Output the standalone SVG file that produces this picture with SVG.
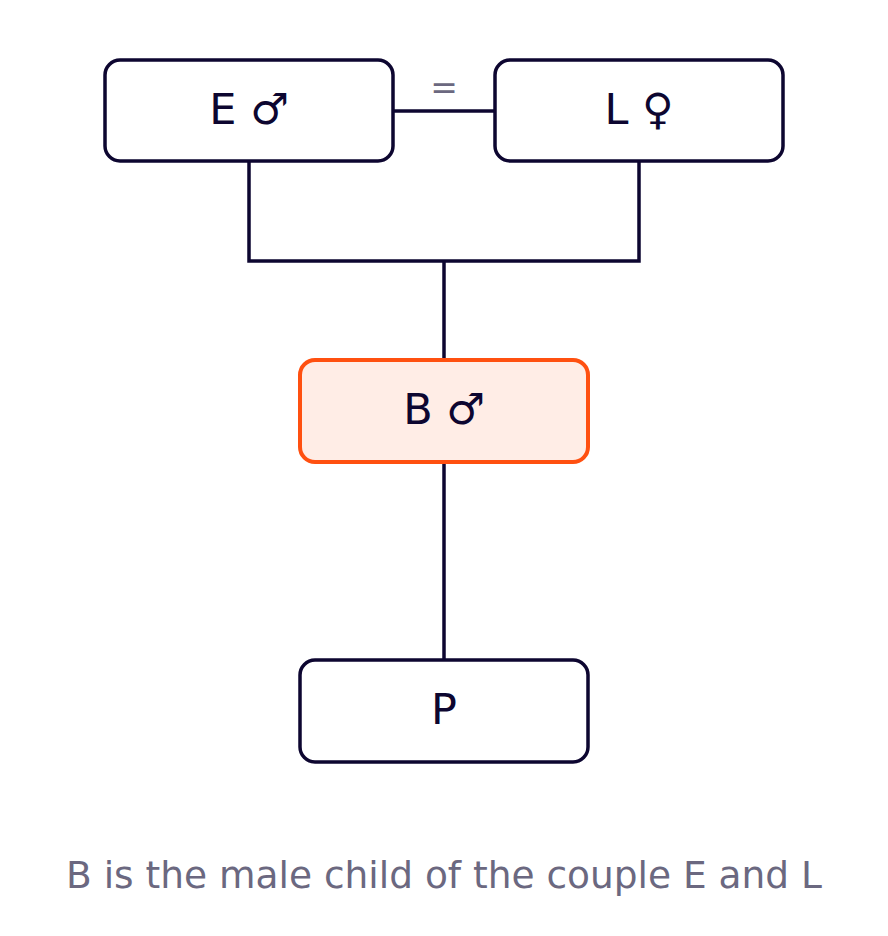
<svg xmlns="http://www.w3.org/2000/svg" width="888" height="936" viewBox="0 0 888 936">
<style>
.node{fill:#ffffff;stroke:#0d0630;stroke-width:3.5}
.hl{fill:#ffede6;stroke:#ff5010;stroke-width:4}
.lbl{font-family:"DejaVu Sans",sans-serif;font-size:43px;fill:#0d0630;text-anchor:middle}
.conn{fill:none;stroke:#0d0630;stroke-width:3.5}
</style>
<rect width="888" height="936" fill="#ffffff"/>
<g id="connectors">
<path class="conn" d="M393 111H495"/>
<path class="conn" d="M249 161V261H639V161"/>
<path class="conn" d="M444 261V360"/>
<path class="conn" d="M444 462V660"/>
<text x="444" y="99" font-family="DejaVu Sans,sans-serif" font-size="33" fill="#6b6880" text-anchor="middle">=</text>
</g>
<g id="nodeE"><rect class="node" x="105" y="60" width="288" height="101" rx="15"/><text class="lbl" x="249" y="124">E ♂</text></g>
<g id="nodeL"><rect class="node" x="495" y="60" width="288" height="101" rx="15"/><text class="lbl" x="639" y="124">L ♀</text></g>
<g id="nodeB"><rect class="hl" x="300" y="360" width="288" height="102" rx="15"/><text class="lbl" x="444" y="424">B ♂</text></g>
<g id="nodeP"><rect class="node" x="300" y="660" width="288" height="102" rx="15"/><text class="lbl" x="444" y="724">P</text></g>
<text x="444" y="888" font-family="DejaVu Sans,sans-serif" font-size="37.5" fill="#6b6880" text-anchor="middle">B is the male child of the couple E and L</text>
</svg>
